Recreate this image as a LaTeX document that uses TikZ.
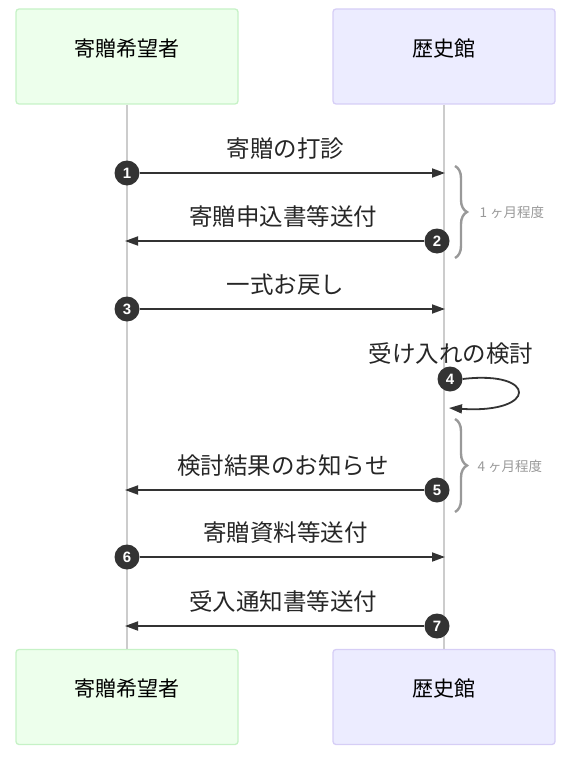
\documentclass[tikz,border=0pt]{standalone}
\usepackage{fontspec}
\setmainfont{Noto Sans CJK JP}
\newfontfamily\numfont{Liberation Sans}
\usetikzlibrary{arrows.meta, decorations.pathreplacing}
\definecolor{cDonorFill}{HTML}{EDFFEC}
\definecolor{cDonorLine}{HTML}{C6F2C6}
\definecolor{cMuseFill}{HTML}{ECECFF}
\definecolor{cMuseLine}{HTML}{D6CEF6}
\definecolor{cLife}{HTML}{CCCCCC}
\definecolor{cInk}{HTML}{333333}
\definecolor{cBrace}{HTML}{999999}

\begin{document}
\begin{tikzpicture}[x=1pt, y=-1pt,
  actor/.style={rounded corners=3pt, line width=1.3pt, minimum width=222pt, minimum height=95pt},
  life/.style={draw=cLife, line width=1.2pt},
  msg/.style={draw=cInk, line width=1.8pt, -{Triangle[length=13pt, width=9pt]}},
  seq/.style={circle, fill=cInk, inner sep=0pt, minimum size=25pt, text=white,
    font=\numfont\bfseries\fontsize{15}{15}\selectfont},
  txt/.style={font=\fontsize{23.5}{26}\selectfont, text=black!85},
  albl/.style={font=\fontsize{21}{24}\selectfont, text=black, yshift=8pt},
  brc/.style={draw=cBrace, line width=2.4pt, decorate, decoration={brace, amplitude=12pt}},
  brnote/.style={font=\fontsize{13.5}{15}\selectfont, text=cBrace, anchor=west},
]
  \useasboundingbox (0,0) rectangle (573,757);
  % participants (top and bottom)
  \node[actor, draw=cDonorLine, fill=cDonorFill, label={[albl]center:寄贈希望者}] (pA) at (127,56.5) {};
  \node[actor, draw=cMuseLine, fill=cMuseFill, label={[albl]center:歴史館}] (pB) at (444,56.5) {};
  \node[actor, draw=cDonorLine, fill=cDonorFill, label={[albl]center:寄贈希望者}] (pA2) at (127,697) {};
  \node[actor, draw=cMuseLine, fill=cMuseFill, label={[albl]center:歴史館}] (pB2) at (444,697) {};
  % lifelines
  \draw[life] (pA) -- (pA2);
  \draw[life] (pB) -- (pB2);
  % ---- donor -> museum ----
  \foreach \i/\y/\t in {1/173/寄贈の打診, 3/309/一式お戻し, 6/557/寄贈資料等送付} {
    \node[seq] (n\i) at (127,\y) {\i};
    \coordinate (e\i) at (445,\y);
    \node[txt] (t\i) at (285.5,\y-24) {\t};
    \draw[msg] (n\i) -- (e\i);
  }
  % ---- museum -> donor ----
  \foreach \i/\y/\t in {2/241/寄贈申込書等送付, 5/490/検討結果のお知らせ, 7/626/受入通知書等送付} {
    \node[seq] (n\i) at (437,\y) {\i};
    \coordinate (e\i) at (125,\y);
    \node[txt] (t\i) at (283,\y-24) {\t};
    \draw[msg] (n\i) -- (e\i);
  }
  % self message
  \node[seq] (n4) at (450,379) {4};
  \coordinate (e4) at (449,408);
  \node[txt] (t4) at (451,354) {受け入れの検討};
  \draw[msg] (n4.east) .. controls (538,370) and (538,414) .. (e4);
  % durations
  \coordinate (b1a) at (455,166); \coordinate (b1b) at (455,258);
  \draw[brc] (b1a) -- (b1b);
  \node[brnote] (m1) at (476,212) {1 ヶ月程度};
  \coordinate (b2a) at (455,419); \coordinate (b2b) at (455,512);
  \draw[brc] (b2a) -- (b2b);
  \node[brnote] (m2) at (474,466) {4 ヶ月程度};
\end{tikzpicture}
\end{document}
